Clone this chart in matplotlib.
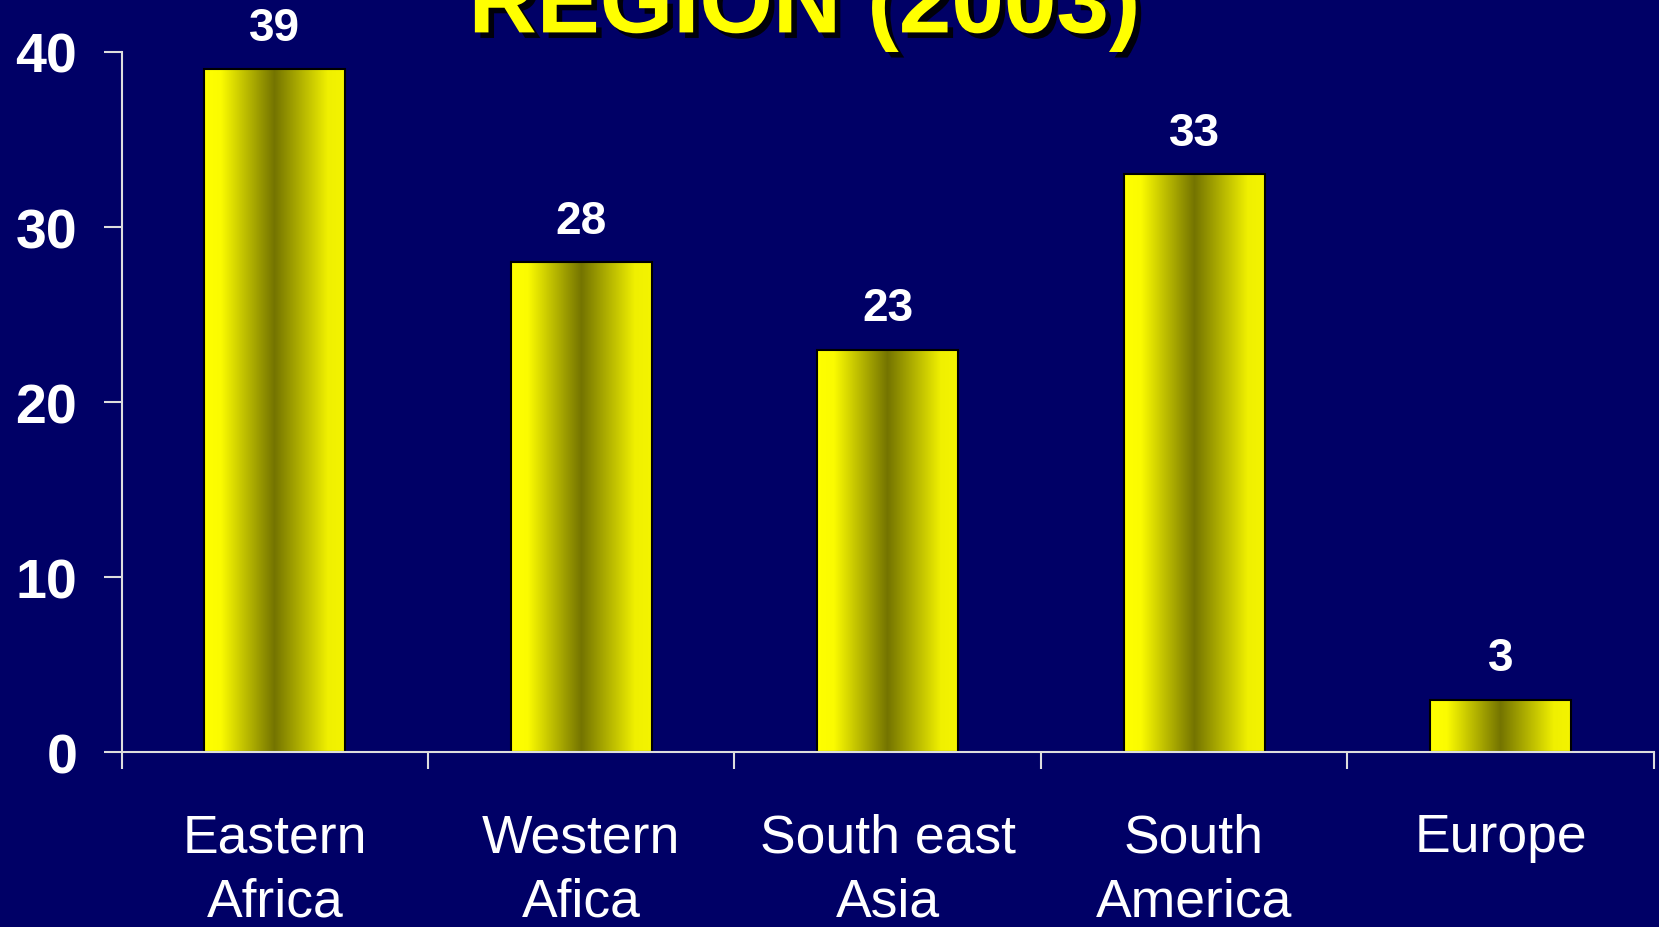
import matplotlib
matplotlib.use("Agg")
from matplotlib import pyplot as plt
from matplotlib.colors import LinearSegmentedColormap
import matplotlib.patheffects as pe
import numpy as np

regions = ["Eastern\nAfrica", "Western\nAfica", "South east\nAsia", "South\nAmerica", "Europe"]
values = [39, 28, 23, 33, 3]
yticks = [0, 10, 20, 30, 40]
title = "REGION (2003)"

bg = "#000066"
plt.rcParams['font.family'] = ['Liberation Sans', 'DejaVu Sans']

fig = plt.figure(figsize=(16.59, 9.28), dpi=100, facecolor=bg)
ax = fig.add_axes([0.0733, 0.1882, 0.9235, 0.7548])
ax.set_facecolor(bg)

x = np.arange(len(values))
bars = ax.bar(x, values, width=0.46, color="none", edgecolor="black", linewidth=1.5, zorder=3)

# horizontal yellow -> olive -> yellow shading inside each bar
cmap = LinearSegmentedColormap.from_list(
    "bar", [(0, "#ffff00"), (0.12, "#fbfb00"), (0.5, "#747400"), (0.88, "#f0f000"), (1, "#f4f400")])
grad = np.linspace(0, 1, 256).reshape(1, -1)
for b in bars:
    x0, y0 = b.get_x(), b.get_y()
    im = ax.imshow(grad, cmap=cmap, aspect="auto", zorder=2,
                   extent=(x0, x0 + b.get_width(), y0, y0 + b.get_height()))
    im.set_clip_path(b)

ax.bar_label(bars, labels=[str(v) for v in values], padding=14, color="white",
             fontsize=33, fontweight="bold")

ax.set_xlim(-0.5, len(values) - 0.5)
ax.set_ylim(0, 40)

ax.set_xticks(x, regions)
ax.set_xticks(np.arange(-0.5, len(values)), minor=True)
ax.tick_params(axis="x", which="major", length=0, pad=43, labelsize=38.5, labelcolor="white")
ax.tick_params(axis="x", which="minor", length=12, width=1.5, color="#dddddd", direction="out")
for lab in ax.get_xticklabels():
    lab.set_linespacing(1.38)

ax.set_yticks(yticks)
ax.tick_params(axis="y", length=13, width=1.5, color="#dddddd", pad=19,
               labelsize=40, labelcolor="white")
for lab in ax.get_yticklabels():
    lab.set_fontweight("bold")

for s in ["top", "right"]:
    ax.spines[s].set_visible(False)
for s in ["left", "bottom"]:
    ax.spines[s].set_color("#dddddd")
    ax.spines[s].set_linewidth(1.5)
    ax.spines[s].set_zorder(4)

fig.text(0.485, 0.964, title, ha="center", va="baseline", color="#ffff00",
         fontsize=68, fontweight="bold",
         path_effects=[pe.SimplePatchShadow(offset=(4, -4), shadow_rgbFace="black", alpha=0.9),
                       pe.Normal()])

fig.savefig("out.png", dpi=100, facecolor=bg)
